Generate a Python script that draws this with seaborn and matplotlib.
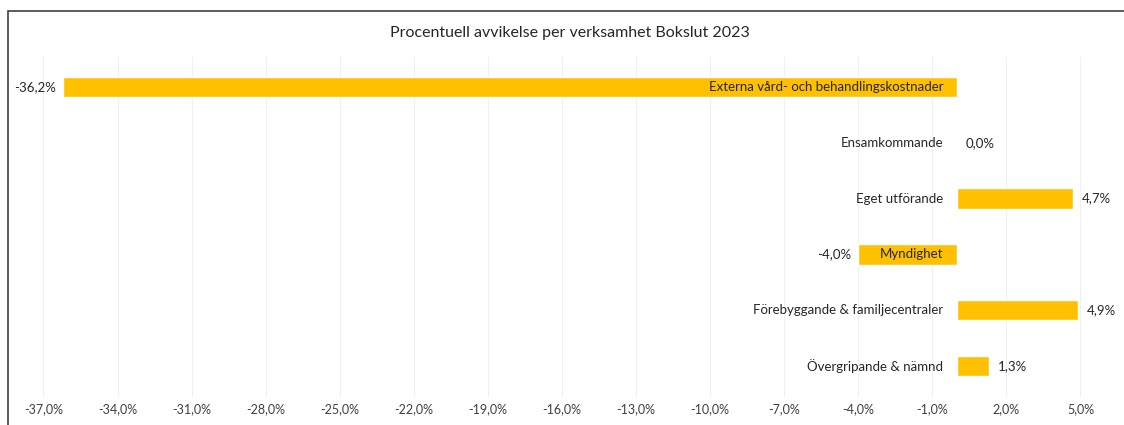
import matplotlib
matplotlib.use("Agg")
from matplotlib import pyplot as plt
from matplotlib.patches import Rectangle
import seaborn as sns
import pandas as pd
import numpy as np

# data
categories = ["Externa vård- och behandlingskostnader", "Ensamkommande", "Eget utförande",
              "Myndighet", "Förebyggande & familjecentraler", "Övergripande & nämnd"]
values = [-36.2, 0.0, 4.7, -4.0, 4.9, 1.3]
ticks = [-37, -34, -31, -28, -25, -22, -19, -16, -13, -10, -7, -4, -1, 2, 5]

sns.set_style("white")
plt.rcParams['font.family'] = ['Lato', 'DejaVu Sans']

df = pd.DataFrame({"kategori": categories, "avvikelse": values})

fig = plt.figure(figsize=(11.24, 4.25), dpi=100)
ax = fig.add_axes([0.009, 0.067, 0.983, 0.80])

sns.barplot(data=df, x="avvikelse", y="kategori", orient="h", color="#FFC000",
            width=0.37, saturation=1, ax=ax)

ax.set_xlim(-38.35, 6.4)
ax.set_ylim(5.55, -0.55)
ax.set_xticks(ticks)
ax.set_xticklabels([f"{t:.1f}%".replace(".", ",") for t in ticks], fontsize=9, color="#404040")
ax.tick_params(axis="x", length=0, pad=5)
ax.set_yticks([])
ax.set_xlabel("")
ax.set_ylabel("")
for s in ax.spines.values():
    s.set_visible(False)
ax.grid(axis="x", color="#f0f0f0", linewidth=0.8)
ax.set_axisbelow(True)

# category names just left of zero, values at bar end
for i, (c, v) in enumerate(zip(categories, values)):
    ax.text(-0.55, i, c, ha="right", va="center", fontsize=9.5, color="#262626")
    lab = f"{v:.1f}%".replace(".", ",")
    if v < 0:
        ax.text(v - 0.3, i, lab, ha="right", va="center", fontsize=9.5, color="#262626")
    else:
        ax.text(v + 0.35, i, lab, ha="left", va="center", fontsize=9.5, color="#262626")

fig.text(0.507, 0.922, "Procentuell avvikelse per verksamhet Bokslut 2023",
         ha="center", va="center", fontsize=11.5, color="#262626")

fig.patches.append(Rectangle((0.007, -0.01), 1.0, 0.983, transform=fig.transFigure,
                             fill=False, edgecolor="#404040", linewidth=1.2))

fig.savefig("out.png", dpi=100)
